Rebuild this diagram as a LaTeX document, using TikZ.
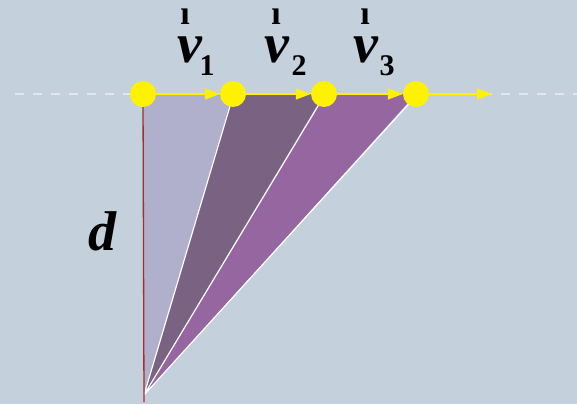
\documentclass[tikz,border=0pt]{standalone}
\usepackage{fontspec}
\setmainfont{Liberation Serif}
\usetikzlibrary{arrows.meta}
\definecolor{bg}{HTML}{C4D0DC}
\definecolor{triA}{HTML}{B0B0CC}
\definecolor{triB}{HTML}{7A6282}
\definecolor{triC}{HTML}{9566A0}
\definecolor{dashc}{HTML}{E4E4F4}
\definecolor{redl}{HTML}{A03030}
\begin{document}
\begin{tikzpicture}[x=1pt,y=-1pt,
  dot/.style={circle,fill=yellow,minimum size=26pt,inner sep=0pt},
  vec/.style={-{Triangle[length=15pt,width=11pt]},yellow,line width=1.5pt},
  lbl/.style={font=\fontsize{56}{56}\selectfont\bfseries\itshape,inner sep=0pt,anchor=base,text height=26pt,text depth=0pt},
  dlbl/.style={font=\fontsize{56}{56}\selectfont\bfseries\itshape,inner sep=0pt,anchor=base,text height=38pt,text depth=0pt},
  sub/.style={font=\fontsize{30}{30}\selectfont\bfseries,inner sep=0pt,anchor=base,text height=20pt,text depth=0pt},
  bar/.style={font=\fontsize{34}{34}\selectfont\bfseries,inner sep=0pt,anchor=base,text height=16pt,text depth=0pt}]
\fill[bg] (0,0) rectangle (577,404);
\useasboundingbox (0,0) rectangle (577,404);
\coordinate (apex) at (144,395);
\coordinate (end) at (492,94);
\coordinate (lstart) at (15,94);
\coordinate (rend) at (577,94);
\coordinate (rbot) at (144,402);
% dashed guide line
\draw[dashc,dashed,dash pattern=on 9pt off 9pt,line width=1.2pt] (lstart) -- (rend);
% triangles
\fill[triA] (apex) -- (143,94) -- (233,94) -- cycle;
\fill[triB] (apex) -- (233,94) -- (324,94) -- cycle;
\fill[triC] (apex) -- (324,94) -- (416,94) -- cycle;
\draw[white,line width=1.2pt] (apex) -- (233,96) (apex) -- (324,96) (apex) -- (416,96);
\draw[redl,line width=1.3pt] (143,96) -- (rbot);
% points
\node[dot] (p0) at (143,94) {};
\node[dot] (p1) at (233,94) {};
\node[dot] (p2) at (324,94) {};
\node[dot] (p3) at (416,94) {};
\draw[vec] (p0) -- (p1);
\draw[vec] (p1) -- (p2);
\draw[vec] (p2) -- (p3);
\draw[vec] (p3) -- (end);
% labels
\node[lbl] (v1) at (190,62) {v};
\node[sub] (s1) at (207,75) {1};
\node[bar] (b1) at (185,25) {ı};
\node[lbl] (v2) at (277,62) {v};
\node[sub] (s2) at (299,75) {2};
\node[bar] (b2) at (276,25) {ı};
\node[lbl] (v3) at (366,62) {v};
\node[sub] (s3) at (387,75) {3};
\node[bar] (b3) at (365,25) {ı};
\node[dlbl] (d) at (102,250) {d};
\end{tikzpicture}
\end{document}
